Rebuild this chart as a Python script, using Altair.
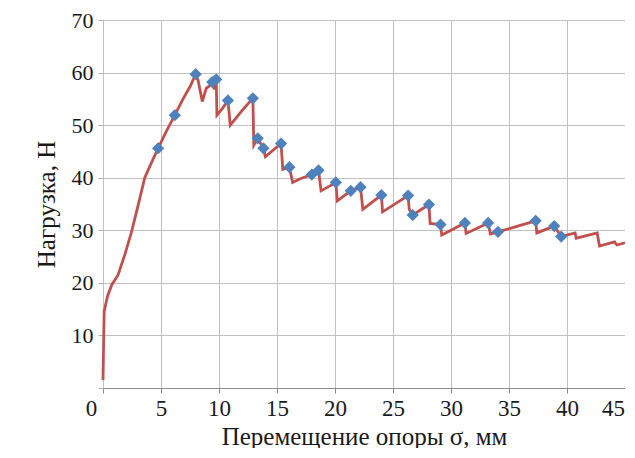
import altair as alt
import pandas as pd

# Red load curve (displacement mm, load N)
line_x = [0.0, 0.05, 0.1, 0.4, 0.75, 1.3, 1.9, 2.45, 3.0, 3.6, 4.1, 4.75, 5.5, 6.19,
          6.9, 7.5, 7.99, 8.2, 8.56, 8.9, 9.2, 9.42, 9.6, 9.76, 9.82, 10.3, 10.77,
          10.97, 12.0, 12.92, 13.0, 13.34, 13.83, 14.0, 15.35, 15.5, 16.07, 16.35,
          17.0, 18.0, 18.58, 18.8, 20.07, 20.2, 21.36, 22.2, 22.4, 24.0, 24.1, 26.3,
          26.4, 26.7, 28.1, 28.2, 29.1, 29.2, 31.2, 31.3, 33.2, 33.4, 34.05, 37.3,
          37.4, 38.9, 39.5, 40.7, 40.8, 42.6, 42.8, 44.1, 44.3, 45.0]
line_y = [1.5, 8.0, 14.6, 17.5, 19.6, 21.5, 25.5, 29.6, 34.5, 40.0, 42.5, 45.6, 49.0, 51.9,
          55.0, 57.3, 59.7, 58.5, 54.5, 57.0, 57.5, 58.2, 56.8, 58.7, 51.9, 53.2, 54.7,
          50.0, 52.8, 55.1, 46.2, 47.5, 45.6, 44.0, 46.5, 41.6, 42.0, 39.1,
          39.8, 40.6, 41.4, 37.5, 39.1, 35.6, 37.5, 38.2, 34.0, 36.7, 33.5, 36.6,
          34.0, 32.9, 34.9, 31.3, 31.1, 29.1, 31.4, 29.4, 31.4, 29.3, 29.7, 31.8,
          29.5, 30.8, 28.8, 29.5, 28.5, 29.5, 27.0, 27.8, 27.2, 27.6]

# Blue diamond markers
mark_x = [4.75, 6.19, 7.99, 9.42, 9.76, 10.77, 12.92, 13.34, 13.83, 15.35, 16.07, 18.0,
          18.58, 20.07, 21.36, 22.2, 24.0, 26.3, 26.7, 28.1, 29.1, 31.2, 33.2, 34.05,
          37.3, 38.9, 39.5]
mark_y = [45.6, 51.9, 59.7, 58.2, 58.7, 54.7, 55.1, 47.5, 45.6, 46.5, 42.0, 40.6,
          41.4, 39.1, 37.5, 38.2, 36.7, 36.6, 32.9, 34.9, 31.1, 31.4, 31.4, 29.7,
          31.8, 30.8, 28.8]

x_ticks = [0, 5, 10, 15, 20, 25, 30, 35, 40, 45]
y_ticks = [0, 10, 20, 30, 40, 50, 60, 70]

line_df = pd.DataFrame({"x": line_x, "y": line_y, "order": list(range(len(line_x)))})
mark_df = pd.DataFrame({"x": mark_x, "y": mark_y})

FONT = "Liberation Serif"

xs = alt.Scale(domain=[0, 45], nice=False, zero=False)
ys = alt.Scale(domain=[0, 70], nice=False)

x_axis = alt.Axis(
    title="Перемещение опоры σ, мм", values=x_ticks, grid=True, gridColor="#C0C0C0",
    gridWidth=1, domainColor="#8C8C8C", domainWidth=1, tickColor="#8C8C8C", tickSize=5,
    labelFont=FONT, labelFontSize=23, labelColor="#1A1A1A", labelPadding=4,
    labelOffset={"condition": {"test": "datum.value === 0 || datum.value === 45",
                               "value": -12}, "value": 0},
    labelFlush=False,
    titleFont=FONT, titleFontSize=25, titleFontWeight="normal", titleColor="#1A1A1A",
    titlePadding=4,
)
y_axis = alt.Axis(
    title="Нагрузка, Н", values=y_ticks, grid=True, gridColor="#C0C0C0", gridWidth=1,
    domain=False, tickColor="#B0B0B0", tickSize=5,
    labelFont=FONT, labelFontSize=22, labelColor="#1A1A1A", labelPadding=5,
    labelExpr="datum.value === 0 ? '' : datum.label",
    titleFont=FONT, titleFontSize=25, titleFontWeight="normal", titleColor="#1A1A1A",
    titlePadding=12,
)

line = alt.Chart(line_df).mark_line(color="#C0504D", strokeWidth=2.8).encode(
    x=alt.X("x:Q", scale=xs, axis=x_axis),
    y=alt.Y("y:Q", scale=ys, axis=y_axis),
    order="order:Q",
)
points = alt.Chart(mark_df).mark_point(
    shape="diamond", filled=True, color="#4F81BD", size=150, opacity=1
).encode(x=alt.X("x:Q", scale=xs), y=alt.Y("y:Q", scale=ys))

chart = alt.layer(line, points).properties(
    width=522, height=368,
    autosize=alt.AutoSizeParams(type="none"),
    padding={"left": 95, "top": 12, "right": 0, "bottom": 60},
).configure_view(stroke=None).configure(background="white")

chart.save("out.html", embed_options={"renderer": "svg", "actions": False})
